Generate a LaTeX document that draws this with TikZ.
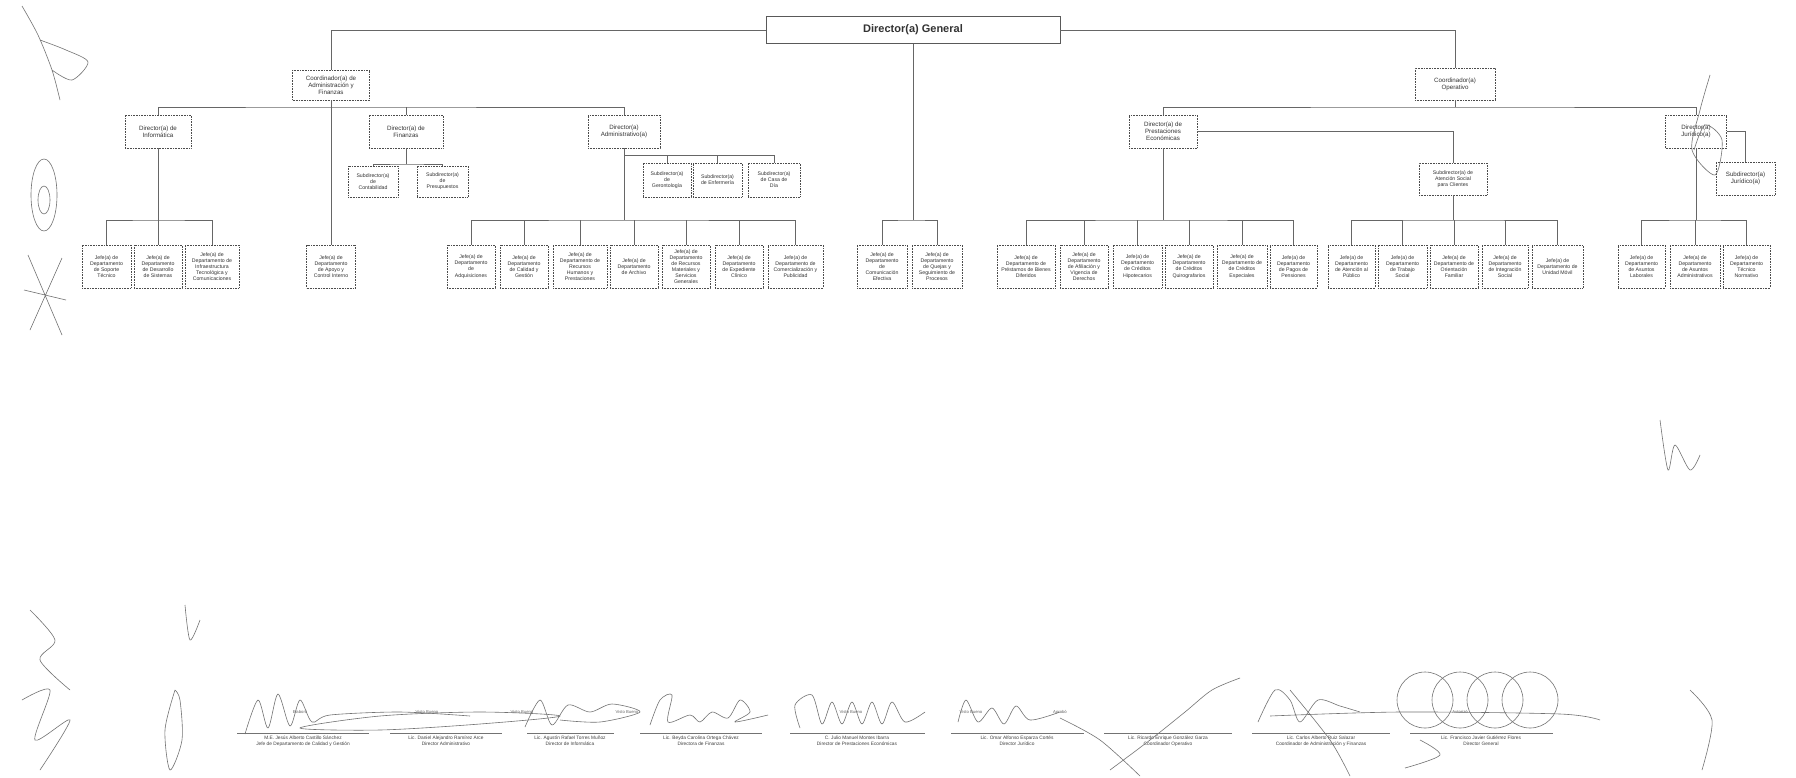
\documentclass[tikz,border=0pt]{standalone}
\usepackage{fontspec}
\setmainfont{Liberation Sans}
\begin{document}
\begin{tikzpicture}[x=1pt,y=-1pt,
  bx/.style={draw=black!70, densely dotted, line width=0.6pt, fill=white, align=center, inner sep=0.5pt, font=\fontsize{5.2}{6.1}\selectfont, text=black!80},
  mx/.style={bx, font=\fontsize{6.2}{7.2}\selectfont},
  ln/.style={draw=black!60, line width=0.6pt},
  sg/.style={draw=black!55, line width=0.6pt},
  nm/.style={font=\fontsize{4.8}{5.6}\selectfont, text=black!75, align=center, inner sep=0pt},
  lb/.style={font=\fontsize{4.2}{5}\selectfont, text=black!60, inner sep=0pt}]
\useasboundingbox (0,0) rectangle (1796,777);
\fill[white] (0,0) rectangle (1796,777);

% ---------- level 1 ----------
\node[draw=black!65, line width=0.7pt, minimum width=294pt, minimum height=27pt, font=\fontsize{11}{13}\selectfont\bfseries, text=black!80] (dg) at (913,30) {Director(a) General};

% ---------- coordinators ----------
\node[mx, minimum width=77pt, minimum height=30pt] (cadm) at (331,85) {Coordinador(a) de\\Administración y\\Finanzas};
\node[mx, minimum width=80pt, minimum height=32pt] (cop) at (1455,84) {Coordinador(a)\\Operativo};

% ---------- directors ----------
\node[mx, minimum width=66pt, minimum height=33pt] (dinf) at (158,131.5) {Director(a) de\\Informática};
\node[mx, minimum width=74pt, minimum height=33pt] (dfin) at (406,131.5) {Director(a) de\\Finanzas};
\node[mx, minimum width=72pt, minimum height=33pt] (dadm) at (624,131.5) {Director(a)\\Administrativo(a)};
\node[mx, minimum width=68pt, minimum height=33pt] (dpre) at (1163,131.5) {Director(a) de\\Prestaciones\\Económicas};
\node[mx, minimum width=61pt, minimum height=33pt] (djur) at (1696,131.5) {Director(a)\\Jurídico(a)};

% ---------- subdirectors ----------
\node[bx, minimum width=50pt, minimum height=31pt] (scon) at (373,181.5) {Subdirector(a)\\de\\Contabilidad};
\node[bx, minimum width=51pt, minimum height=31pt] (spre) at (442.5,181.5) {Subdirector(a)\\de\\Presupuestos};
\node[bx, minimum width=48pt, minimum height=34pt] (sger) at (667,180) {Subdirector(a)\\de\\Gerontología};
\node[bx, minimum width=49pt, minimum height=34pt] (senf) at (717.5,180) {Subdirector(a)\\de Enfermería};
\node[bx, minimum width=52pt, minimum height=34pt] (scas) at (774,180) {Subdirector(a)\\de Casa de\\Día};
\node[bx, minimum width=68pt, minimum height=32pt] (sate) at (1453,179) {Subdirector(a) de\\Atención Social\\para Clientes};
\node[mx, minimum width=59pt, minimum height=33pt] (sjur) at (1745.5,178.5) {Subdirector(a)\\Jurídico(a)};

% ---------- bottom row ----------
\def\by{266.5}
\node[bx, minimum width=49pt, minimum height=43pt] (i1) at (106.5,\by) {Jefe(a) de\\Departamento\\de Soporte\\Técnico};
\node[bx, minimum width=48pt, minimum height=43pt] (i2) at (158,\by) {Jefe(a) de\\Departamento\\de Desarrollo\\de Sistemas};
\node[bx, minimum width=54pt, minimum height=43pt] (i3) at (212,\by) {Jefe(a) de\\Departamento de\\Infraestructura\\Tecnológica y\\Comunicaciones};
\node[bx, minimum width=49pt, minimum height=43pt] (apo) at (331,\by) {Jefe(a) de\\Departamento\\de Apoyo y\\Control Interno};

\node[bx, minimum width=48pt, minimum height=43pt] (a1) at (471,\by) {Jefe(a) de\\Departamento\\de\\Adquisiciones};
\node[bx, minimum width=48pt, minimum height=43pt] (a2) at (524,\by) {Jefe(a) de\\Departamento\\de Calidad y\\Gestión};
\node[bx, minimum width=54pt, minimum height=43pt] (a3) at (580,\by) {Jefe(a) de\\Departamento de\\Recursos\\Humanos y\\Prestaciones};
\node[bx, minimum width=48pt, minimum height=43pt] (a4) at (634,\by) {Jefe(a) de\\Departamento\\de Archivo};
\node[bx, minimum width=48pt, minimum height=43pt] (a5) at (686,\by) {Jefe(a) de\\Departamento\\de Recursos\\Materiales y\\Servicios\\Generales};
\node[bx, minimum width=48pt, minimum height=43pt] (a6) at (739,\by) {Jefe(a) de\\Departamento\\de Expediente\\Clínico};
\node[bx, minimum width=55pt, minimum height=43pt] (a7) at (795.5,\by) {Jefe(a) de\\Departamento de\\Comercialización y\\Publicidad};

\node[bx, minimum width=50pt, minimum height=43pt] (c1) at (882,\by) {Jefe(a) de\\Departamento\\de\\Comunicación\\Efectiva};
\node[bx, minimum width=50pt, minimum height=43pt] (c2) at (937,\by) {Jefe(a) de\\Departamento\\de Quejas y\\Seguimiento de\\Procesos};

\node[bx, minimum width=58pt, minimum height=43pt] (p1) at (1026,\by) {Jefe(a) de\\Departamento de\\Préstamos de Bienes\\Diferidos};
\node[bx, minimum width=48pt, minimum height=43pt] (p2) at (1084,\by) {Jefe(a) de\\Departamento\\de Afiliación y\\Vigencia de\\Derechos};
\node[bx, minimum width=49pt, minimum height=43pt] (p3) at (1137.5,\by) {Jefe(a) de\\Departamento\\de Créditos\\Hipotecarios};
\node[bx, minimum width=48pt, minimum height=43pt] (p4) at (1189,\by) {Jefe(a) de\\Departamento\\de Créditos\\Quirografarios};
\node[bx, minimum width=50pt, minimum height=43pt] (p5) at (1242,\by) {Jefe(a) de\\Departamento de\\de Créditos\\Especiales};
\node[bx, minimum width=47pt, minimum height=43pt] (p6) at (1293.5,\by) {Jefe(a) de\\Departamento\\de Pagos de\\Pensiones};

\node[bx, minimum width=47pt, minimum height=43pt] (s1) at (1351.5,\by) {Jefe(a) de\\Departamento\\de Atención al\\Público};
\node[bx, minimum width=49pt, minimum height=43pt] (s2) at (1402.5,\by) {Jefe(a) de\\Departamento\\de Trabajo\\Social};
\node[bx, minimum width=48pt, minimum height=43pt] (s3) at (1454,\by) {Jefe(a) de\\Departamento de\\Orientación\\Familiar};
\node[bx, minimum width=46pt, minimum height=43pt] (s4) at (1505,\by) {Jefe(a) de\\Departamento\\de Integración\\Social};
\node[bx, minimum width=51pt, minimum height=43pt] (s5) at (1557.5,\by) {Jefe(a) de\\Departamento de\\Unidad Móvil};

\node[bx, minimum width=47pt, minimum height=43pt] (j1) at (1641.5,\by) {Jefe(a) de\\Departamento\\de Asuntos\\Laborales};
\node[bx, minimum width=50pt, minimum height=43pt] (j2) at (1695,\by) {Jefe(a) de\\Departamento\\de Asuntos\\Administrativos};
\node[bx, minimum width=47pt, minimum height=43pt] (j3) at (1746.5,\by) {Jefe(a) de\\Departamento\\Técnico\\Normativo};

% ---------- bus coordinates ----------
\coordinate (l2) at (331,107);
\coordinate (r2) at (1455,107);
\coordinate (f3) at (406,164);
\coordinate (a3b) at (624,155);
\coordinate (bi) at (158,220);
\coordinate (ba) at (624,220);
\coordinate (bd) at (913,220);
\coordinate (bp) at (1163,220);
\coordinate (bs) at (1453,220);
\coordinate (bj) at (1696,220);

% ---------- connectors ----------
\draw[ln] (dg.west) -| (cadm.north);
\draw[ln] (dg.east) -| (cop.north);
\draw[ln] (dg.south) -- (bd);
\draw[ln] (c1.north) |- (bd) -| (c2.north);

\draw[ln] (cadm.south) -- (apo.north);
\draw[ln] (dinf.north) |- (l2) -| (dadm.north);
\draw[ln] (dfin.north) -- (dfin.north |- l2);

\draw[ln] (dfin.south) -- (f3);
\draw[ln] (scon.north) |- (f3) -| (spre.north);

\draw[ln] (dadm.south) -- (ba);
\draw[ln] (a3b) -| (scas.north);
\draw[ln] (sger.north) -- (sger.north |- a3b);
\draw[ln] (senf.north) -- (senf.north |- a3b);

\draw[ln] (dinf.south) -- (bi);
\draw[ln] (i1.north) |- (bi) -| (i3.north);
\draw[ln] (i2.north) -- (bi);

\draw[ln] (a1.north) |- (ba) -| (a7.north);
\foreach \n in {a2,a3,a4,a5,a6} \draw[ln] (\n.north) -- (\n.north |- ba);

\draw[ln] (cop.south) -- (r2);
\draw[ln] (dpre.north) |- (r2) -| (djur.north);
\draw[ln] (dpre.east) -| (sate.north);
\draw[ln] (dpre.south) -- (bp);
\draw[ln] (p1.north) |- (bp) -| (p6.north);
\foreach \n in {p2,p3,p4,p5} \draw[ln] (\n.north) -- (\n.north |- bp);

\draw[ln] (sate.south) -- (bs);
\draw[ln] (s1.north) |- (bs) -| (s5.north);
\foreach \n in {s2,s3,s4} \draw[ln] (\n.north) -- (\n.north |- bs);

\draw[ln] (djur.east) -| (sjur.north);
\draw[ln] (djur.south) -- (bj);
\draw[ln] (j1.north) |- (bj) -| (j3.north);
\draw[ln] (j2.north) -- (j2.north |- bj);

% ---------- handwritten marks (scan) ----------
\draw[sg] plot[smooth] coordinates {(22,6) (38,35) (52,70) (60,100)};
\draw[sg] plot[smooth] coordinates {(40,40) (66,50) (88,62) (72,80) (52,70)};
\draw[sg] (44,195) ellipse [x radius=13pt, y radius=36pt];
\draw[sg] (44,200) ellipse [x radius=6pt, y radius=14pt];
\draw[sg] (28,255) -- (62,335) (62,258) -- (30,330) (24,290) -- (66,300);
\draw[sg] plot[smooth] coordinates {(30,610) (55,640) (40,660) (70,690)};
\draw[sg] plot[smooth] coordinates {(22,700) (50,690) (35,740) (70,720) (40,770)};
\draw[sg] plot[smooth] coordinates {(175,690) (165,730) (170,770) (182,740) (180,700) (175,690)};
\draw[sg] plot[smooth] coordinates {(185,605) (190,640) (200,620)};
\draw[sg] plot[smooth] coordinates {(1710,75) (1700,110) (1692,150) (1715,175) (1722,140) (1705,125) (1694,150)};
\draw[sg] plot[smooth] coordinates {(1660,420) (1668,470) (1675,445) (1690,470) (1700,455)};
\draw[sg] plot[smooth] coordinates {(1690,690) (1712,720) (1702,770)};

% ---------- signatures ----------
\foreach \xa/\xb in {237/369, 390/502, 527/614, 640/762, 790/925, 951/1084, 1104/1232, 1252/1390, 1410/1553}
  \draw[draw=black!55, line width=0.4pt] (\xa,733) -- (\xb,733);

\node[nm] (n1) at (303,741) {M.E. Jesús Alberto Castillo Sánchez\\Jefe de Departamento de Calidad y Gestión};
\node[nm] (n2) at (446,741) {Lic. Daniel Alejandro Ramírez Arce\\Director Administrativo};
\node[nm] (n3) at (570,741) {Lic. Agustín Rafael Torres Muñoz\\Director de Informática};
\node[nm] (n4) at (701,741) {Lic. Beyda Carolina Ortega Chávez\\Directora de Finanzas};
\node[nm] (n5) at (857,741) {C. Julio Manuel Montes Ibarra\\Director de Prestaciones Económicas};
\node[nm] (n6) at (1017,741) {Lic. Omar Alfonso Esparza Cortés\\Director Jurídico};
\node[nm] (n7) at (1168,741) {Lic. Ricardo Enrique González Garza\\Coordinador Operativo};
\node[nm] (n8) at (1321,741) {Lic. Carlos Alberto Ruiz Salazar\\Coordinador de Administración y Finanzas};
\node[nm] (n9) at (1481,741) {Lic. Francisco Javier Gutiérrez Flores\\Director General};

\node[lb] (l1) at (300,712) {Elaboró};
\node[lb] (l2t) at (427,712) {Visto Bueno};
\node[lb] (l3) at (522,712) {Visto Bueno};
\node[lb] (l4) at (627,712) {Visto Bueno};
\node[lb] (l5) at (851,712) {Visto Bueno};
\node[lb] (l6) at (971,712) {Visto Bueno};
\node[lb] (l7) at (1060,712) {Aprobó};
\node[lb] (l9) at (1460,712) {Autorizó};

% signature strokes
\draw[sg] plot[smooth] coordinates {(245,734) (258,700) (268,728) (278,694) (290,726) (300,700) (312,722) (330,715) (400,712) (470,716)};
\draw[sg] plot[smooth cycle] coordinates {(300,728) (380,716) (480,712) (560,716) (480,724) (380,730)};
\draw[sg] plot[smooth] coordinates {(525,727) (540,700) (552,725) (568,705) (590,712) (612,704) (640,712) (600,722) (560,720)};
\draw[sg] plot[smooth] coordinates {(650,725) (660,700) (672,695) (668,722) (690,715) (700,722) (712,712) (728,718) (740,700) (750,712) (735,722) (768,715)};
\draw[sg] plot[smooth] coordinates {(800,728) (795,705) (812,695) (822,724) (832,702) (842,724) (852,702) (862,724) (872,702) (882,724) (892,702) (905,722) (925,712)};
\draw[sg] plot[smooth] coordinates {(958,722) (966,700) (978,722) (992,708) (1004,724) (1016,706) (1030,720) (1060,712)};
\draw[sg] plot[smooth] coordinates {(1060,718) (1100,740) (1140,776)};
\draw[sg] plot[smooth] coordinates {(1110,770) (1150,740) (1185,712) (1212,690) (1240,678)};
\draw[sg] plot[smooth] coordinates {(1258,722) (1275,690) (1290,700) (1300,722) (1318,700) (1340,706) (1360,712)};
\draw[sg] plot[smooth] coordinates {(1290,690) (1330,740) (1350,776)};
\draw[sg] plot[smooth] coordinates {(1270,716) (1400,712) (1560,714) (1600,720)};
\foreach \cx in {1425,1460,1495,1530} \draw[sg] (\cx,700) circle [radius=28pt];
\draw[sg] plot[smooth] coordinates {(1420,740) (1440,755) (1405,768)};
\end{tikzpicture}
\end{document}
